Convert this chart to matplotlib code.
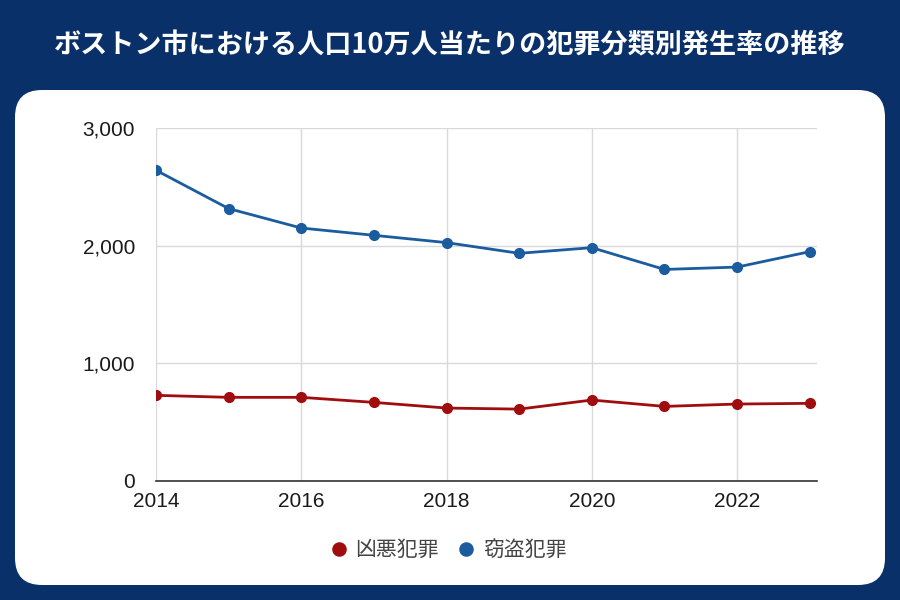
import matplotlib
matplotlib.use("Agg")
import matplotlib.pyplot as plt
from matplotlib.patches import FancyBboxPatch
from matplotlib.ticker import FuncFormatter, MultipleLocator

years = [2014, 2015, 2016, 2017, 2018, 2019, 2020, 2021, 2022, 2023]
violent = [728, 711, 711, 668, 620, 611, 688, 634, 654, 660]
theft = [2641, 2315, 2150, 2088, 2026, 1935, 1983, 1798, 1818, 1949]
series_names = ["凶悪犯罪", "窃盗犯罪"]
title = "ボストン市における人口10万人当たりの犯罪分類別発生率の推移"

navy = "#0a3069"
red = "#a00d0e"
blue = "#1b5c9e"

plt.rcParams['font.family'] = ['Liberation Sans', 'Noto Sans CJK JP', 'DejaVu Sans']

fig = plt.figure(figsize=(9, 6), dpi=100)
fig.patch.set_facecolor(navy)

# white rounded card behind the axes
card = FancyBboxPatch((15 / 900, 15 / 600), 870 / 900, 495 / 600,
                      boxstyle="round,pad=0,rounding_size=0.03",
                      transform=fig.transFigure, facecolor="white",
                      edgecolor="none", mutation_aspect=1.5, zorder=-5)
fig.patches.append(card)

fig.text(0.5, 555 / 600, title, ha="center", va="center", color="white",
         fontsize=19.5, fontweight="bold",
         family=['Noto Sans CJK JP', 'DejaVu Sans'])

ax = fig.add_axes([156 / 900, 119 / 600, 661 / 900, 353 / 600])
ax.set_zorder(1)
ax.patch.set_alpha(0)
ax.plot(years, violent, "-o", color=red, lw=2, ms=7, label=series_names[0], zorder=3)
ax.plot(years, theft, "-o", color=blue, lw=2, ms=7, label=series_names[1], zorder=3)

ax.set_xlim(2014, 2023.1)
ax.set_ylim(0, 3000)
ax.xaxis.set_major_locator(MultipleLocator(2))
ax.yaxis.set_major_locator(MultipleLocator(1000))
ax.yaxis.set_major_formatter(FuncFormatter(lambda v, p: f"{int(v):,}"))
ax.grid(True, color="#d9d9d9", lw=1)
ax.set_axisbelow(True)
for s in ["top", "right", "left"]:
    ax.spines[s].set_visible(False)
ax.spines["bottom"].set_color("#333333")
ax.spines["bottom"].set_linewidth(1.2)
ax.tick_params(axis="both", length=0, labelsize=15, colors="#1a1a1a")
ax.tick_params(axis="y", pad=15)
ax.tick_params(axis="x", pad=8)

leg = ax.legend(loc="center", bbox_to_anchor=(0.444, -0.195), ncol=2,
                frameon=False, handlelength=0.6, handletextpad=0.5,
                columnspacing=1.0, markerscale=1.35,
                prop={'family': ['Noto Sans CJK JP'], 'size': 15})
for line in leg.get_lines():
    line.set_linestyle("none")
for t in leg.get_texts():
    t.set_color("#444444")

fig.savefig("out.png", dpi=100, facecolor=navy)
